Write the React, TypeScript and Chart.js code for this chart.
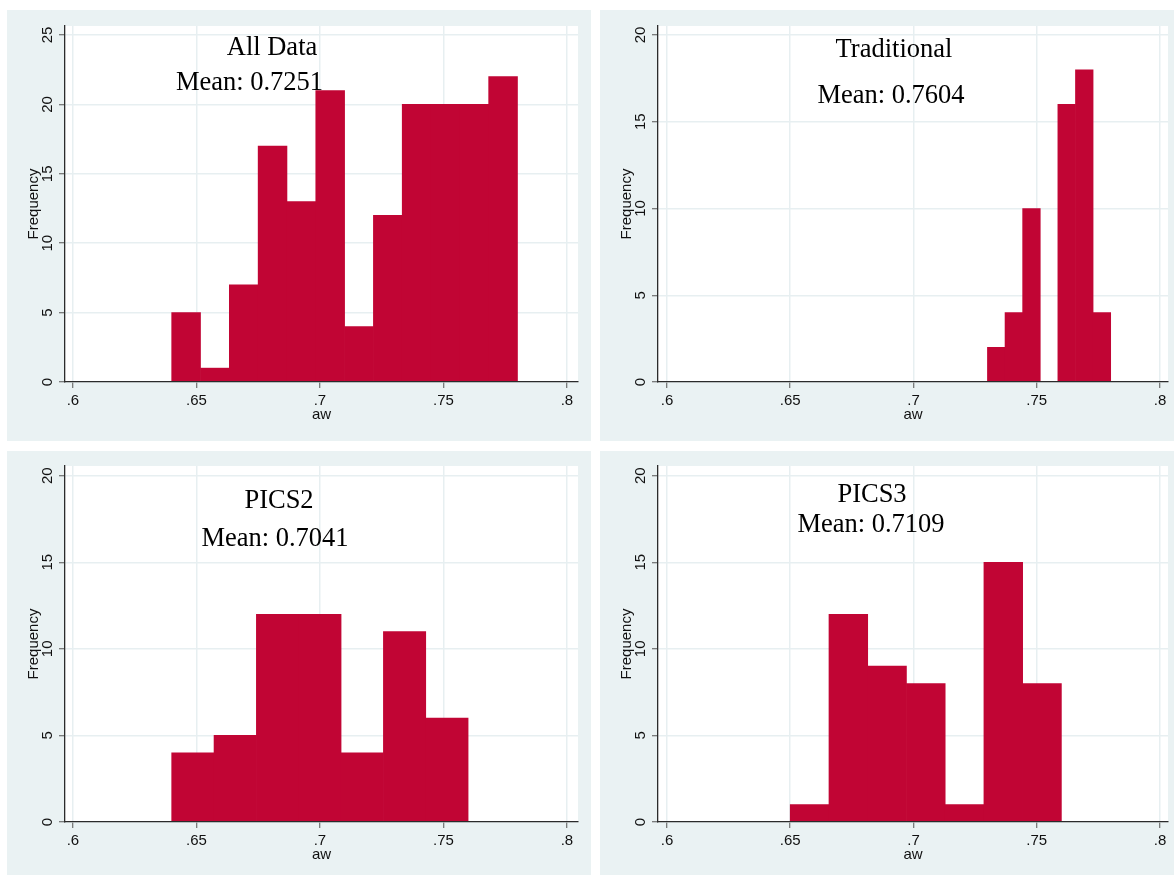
import React, { useEffect, useRef } from "react";
import { Chart, registerables } from "chart.js";

Chart.register(...registerables);

// Shared axis ticks
const xTickValues = [0.6, 0.65, 0.7, 0.75, 0.8];
const xTickLabels = [".6", ".65", ".7", ".75", ".8"];
const yTicksAll = [0, 5, 10, 15, 20, 25];
const yTicksGroup = [0, 5, 10, 15, 20];

// All Data: 12 bins over [0.64, 0.78]
const allBinStart = 0.64;
const allBinEnd = 0.78;
const allCounts = [5, 1, 7, 17, 13, 21, 4, 12, 20, 20, 20, 22];

// Traditional: 7 bins over [0.73, 0.78]
const tradBinStart = 0.73;
const tradBinEnd = 0.78;
const tradCounts = [2, 4, 10, 0, 16, 18, 4];

// PICS2: 7 bins over [0.64, 0.76]
const pics2BinStart = 0.64;
const pics2BinEnd = 0.76;
const pics2Counts = [4, 5, 12, 12, 4, 11, 6];

// PICS3: 7 bins over [0.65, 0.76]
const pics3BinStart = 0.65;
const pics3BinEnd = 0.76;
const pics3Counts = [1, 12, 9, 8, 1, 15, 8];

const titles = ["All Data", "Traditional", "PICS2", "PICS3"];
const means = ["0.7251", "0.7604", "0.7041", "0.7109"];

const xAxisTitle = "aw";
const yAxisTitle = "Frequency";

// Styling
const PANEL_BG = "#eaf2f3";
const BAR = "#c10534";
const GRID = "#e7eff1";
const AXIS = "#2b2b2b";
const TICK = "#555555";
const TEXT = "#111111";
const SANS = "'Liberation Sans', Arial, sans-serif";
const SERIF = "'Liberation Serif', 'Times New Roman', serif";

type PanelCfg = {
  title: string;
  mean: string;
  start: number;
  end: number;
  counts: number[];
  yTicks: number[];
  yMax: number;
  xMin: number;
  xMax: number;
  box: { left: number; top: number; width: number; height: number };
  area: { left: number; right: number; top: number; bottom: number };
  titleAt: [number, number];
  meanAt: [number, number];
};

const panels: PanelCfg[] = [
  {
    title: titles[0],
    mean: means[0],
    start: allBinStart,
    end: allBinEnd,
    counts: allCounts,
    yTicks: yTicksAll,
    yMax: 25.65,
    xMin: 0.5968,
    xMax: 0.8045,
    box: { left: 7, top: 10, width: 584, height: 431 },
    area: { left: 58, right: 571, top: 16, bottom: 372 },
    titleAt: [265, 45],
    meanAt: [242.5, 80],
  },
  {
    title: titles[1],
    mean: means[1],
    start: tradBinStart,
    end: tradBinEnd,
    counts: tradCounts,
    yTicks: yTicksGroup,
    yMax: 20.52,
    xMin: 0.59635,
    xMax: 0.80325,
    box: { left: 600, top: 10, width: 574, height: 431 },
    area: { left: 58, right: 568, top: 16, bottom: 372 },
    titleAt: [294, 47],
    meanAt: [291, 93],
  },
  {
    title: titles[2],
    mean: means[2],
    start: pics2BinStart,
    end: pics2BinEnd,
    counts: pics2Counts,
    yTicks: yTicksGroup,
    yMax: 20.56,
    xMin: 0.5968,
    xMax: 0.8045,
    box: { left: 7, top: 451, width: 584, height: 424 },
    area: { left: 58, right: 571, top: 15, bottom: 371 },
    titleAt: [272, 57],
    meanAt: [268, 95],
  },
  {
    title: titles[3],
    mean: means[3],
    start: pics3BinStart,
    end: pics3BinEnd,
    counts: pics3Counts,
    yTicks: yTicksGroup,
    yMax: 20.56,
    xMin: 0.59635,
    xMax: 0.80325,
    box: { left: 600, top: 451, width: 574, height: 424 },
    area: { left: 58, right: 568, top: 15, bottom: 371 },
    titleAt: [272, 51],
    meanAt: [271, 81],
  },
];

function HistPanel({ cfg }: { cfg: PanelCfg }) {
  const ref = useRef<HTMLCanvasElement>(null);

  useEffect(() => {
    const canvas = ref.current;
    if (!canvas) return;
    const binWidth = (cfg.end - cfg.start) / cfg.counts.length;
    const points = cfg.counts.map((c, i) => ({
      x: cfg.start + binWidth * (i + 0.5),
      y: c,
    }));

    // White plot region plus all text (tick labels, axis titles, annotations)
    const decor = {
      id: "stataDecor",
      beforeDraw(chart: any) {
        const { ctx, chartArea: a } = chart;
        ctx.save();
        ctx.fillStyle = "#ffffff";
        ctx.fillRect(a.left, a.top, a.right - a.left, a.bottom - a.top);
        ctx.restore();
      },
      afterDraw(chart: any) {
        const { ctx, chartArea: a, scales } = chart;
        const xs = scales.x;
        const ys = scales.y;
        ctx.save();
        ctx.fillStyle = TEXT;
        ctx.textAlign = "center";
        ctx.textBaseline = "alphabetic";
        ctx.font = `15px ${SANS}`;
        xTickValues.forEach((v, i) => {
          ctx.fillText(xTickLabels[i], xs.getPixelForValue(v), a.bottom + 23);
        });
        ctx.fillText(xAxisTitle, (a.left + a.right) / 2, a.bottom + 37);
        cfg.yTicks.forEach((v) => {
          ctx.save();
          ctx.translate(a.left - 13, ys.getPixelForValue(v));
          ctx.rotate(-Math.PI / 2);
          ctx.fillText(String(v), 0, 0);
          ctx.restore();
        });
        ctx.save();
        ctx.translate(a.left - 27, (a.top + a.bottom) / 2);
        ctx.rotate(-Math.PI / 2);
        ctx.fillText(yAxisTitle, 0, 0);
        ctx.restore();

        ctx.font = `26.5px ${SERIF}`;
        ctx.fillStyle = "#000000";
        ctx.fillText(cfg.title, cfg.titleAt[0], cfg.titleAt[1]);
        ctx.fillText(`Mean: ${cfg.mean}`, cfg.meanAt[0], cfg.meanAt[1]);
        ctx.restore();
      },
    };

    const chart = new Chart(canvas, {
      type: "bar",
      data: {
        datasets: [
          {
            data: points as any,
            backgroundColor: BAR,
            borderWidth: 0,
            barPercentage: 1,
            categoryPercentage: 1,
          },
        ],
      },
      options: {
        animation: false,
        responsive: false,
        devicePixelRatio: 1,
        layout: {
          padding: {
            left: 0,
            top: cfg.area.top,
            right: cfg.box.width - cfg.area.right,
            bottom: 0,
          },
        },
        plugins: {
          legend: { display: false },
          tooltip: { enabled: false },
        },
        scales: {
          x: {
            type: "linear",
            min: cfg.xMin,
            max: cfg.xMax,
            offset: false,
            afterBuildTicks: (s: any) => {
              s.ticks = xTickValues.map((v) => ({ value: v }));
            },
            afterFit: (s: any) => {
              s.height = cfg.box.height - cfg.area.bottom;
            },
            ticks: { display: false },
            grid: {
              offset: false,
              color: GRID,
              lineWidth: 1.5,
              drawTicks: true,
              tickLength: 6,
              tickColor: TICK,
              tickWidth: 1,
            },
            border: { display: true, color: AXIS, width: 1.3, z: 1 },
          },
          y: {
            type: "linear",
            min: 0,
            max: cfg.yMax,
            afterBuildTicks: (s: any) => {
              s.ticks = cfg.yTicks.map((v) => ({ value: v }));
            },
            afterFit: (s: any) => {
              s.width = cfg.area.left;
            },
            ticks: { display: false },
            grid: {
              color: GRID,
              lineWidth: 1.5,
              drawTicks: true,
              tickLength: 6,
              tickColor: TICK,
              tickWidth: 1,
            },
            border: { display: true, color: AXIS, width: 1.3, z: 1 },
          },
        } as any,
      },
      plugins: [decor],
    });

    return () => chart.destroy();
  }, [cfg]);

  return (
    <div
      style={{
        position: "absolute",
        left: cfg.box.left,
        top: cfg.box.top,
        width: cfg.box.width,
        height: cfg.box.height,
        background: PANEL_BG,
      }}
    >
      <canvas
        ref={ref}
        width={cfg.box.width}
        height={cfg.box.height}
        style={{ display: "block", width: cfg.box.width, height: cfg.box.height }}
      />
    </div>
  );
}

export default function App() {
  return (
    <div
      style={{
        position: "absolute",
        left: 0,
        top: 0,
        width: 1174,
        height: 875,
        background: "#ffffff",
        overflow: "hidden",
      }}
    >
      {panels.map((p) => (
        <HistPanel key={p.title} cfg={p} />
      ))}
    </div>
  );
}
